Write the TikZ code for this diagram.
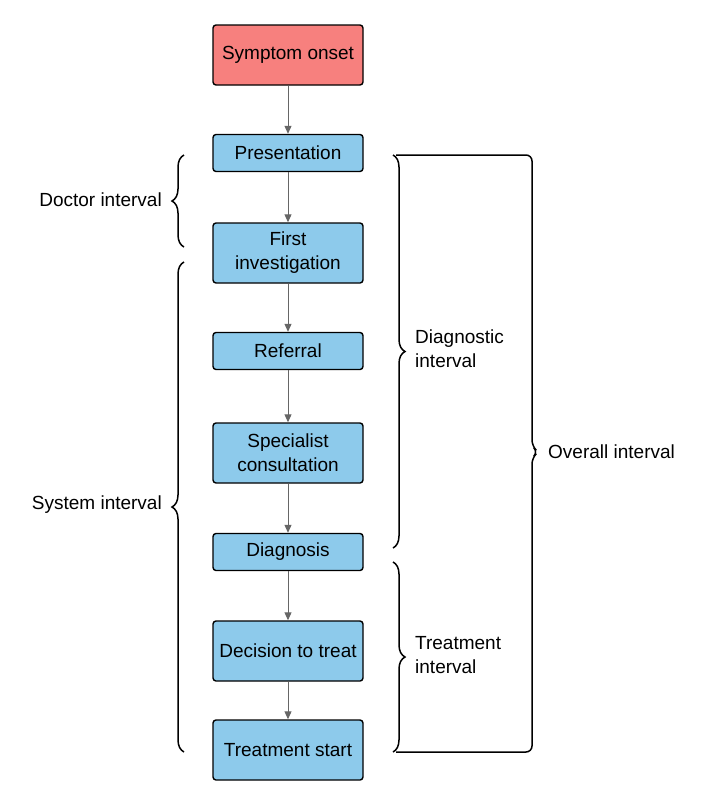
\documentclass[tikz,border=0pt]{standalone}
\usepackage{fontspec}
\setmainfont{Liberation Sans}
\usetikzlibrary{arrows.meta,decorations.pathreplacing}
\definecolor{boxblue}{HTML}{8DCAEB}
\definecolor{boxred}{HTML}{F7807E}
\tikzset{box/.style={draw,line width=1.4pt,rounded corners=3pt,fill=boxblue,minimum width=150pt,
    minimum height=37pt,align=center,inner sep=2pt,font=\fontsize{19}{24}\selectfont},
  tall/.style={box,minimum height=60pt},
  lbl/.style={align=left,inner sep=0pt,font=\fontsize{19}{24}\selectfont},
  arr/.style={-{Triangle[length=8pt,width=7pt]},line width=1pt,draw=black!60,fill=black!60},
  brc/.style={decorate,decoration={brace,amplitude=12pt},line width=1.5pt}}
\begin{document}
\begin{tikzpicture}[x=1pt,y=-1pt]
\useasboundingbox (0,0) rectangle (713,807);
% the pathway
\node[tall,fill=boxred] (onset) at (288,55){Symptom onset};
\node[box] (pres) at (288,153){Presentation};
\node[tall] (inv) at (288,253){First\\investigation};
\node[box] (ref) at (288,351){Referral};
\node[tall] (spec) at (288,453){Specialist\\consultation};
\node[box] (diag) at (288,552){Diagnosis};
\node[tall] (dec) at (288,651){Decision to treat};
\node[tall] (start) at (288,750){Treatment start};
\foreach \a/\b in {onset/pres,pres/inv,inv/ref,ref/spec,spec/diag,diag/dec,dec/start}
  {\draw[arr] (\a)--(\b);}
% left braces
\draw[brc] (184,247)--(184,155);
\draw[brc] (184,752)--(184,262);
\node[lbl,anchor=east] (doclbl) at (162,200){Doctor interval};
\node[lbl,anchor=east] (syslbl) at (162,505){System interval};
% right braces
\draw[brc] (393,155)--(393,548);
\draw[brc] (393,562)--(393,752);
\draw[line width=1.5pt,rounded corners=6pt] (396,155)--(532,155)--(532,446)--(538,452)--(532,458)--(532,752)--(396,752);
\node[lbl,anchor=west] (diaglbl) at (415,349){Diagnostic\\interval};
\node[lbl,anchor=west] (treatlbl) at (415,655){Treatment\\interval};
\node[lbl,anchor=west] (alllbl) at (548,452){Overall interval};
\end{tikzpicture}
\end{document}
